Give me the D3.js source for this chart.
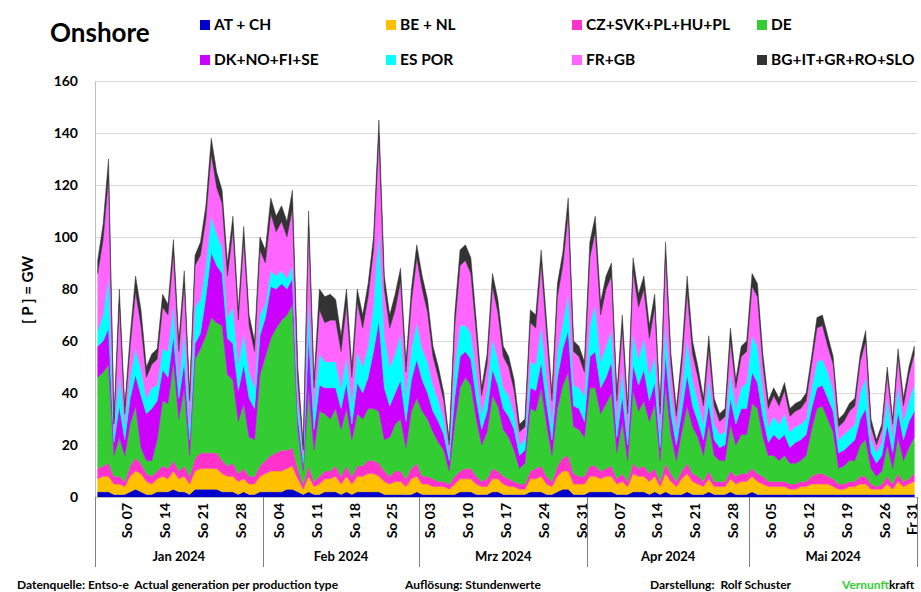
<!DOCTYPE html>
<html>
<head>
<meta charset="utf-8">
<script src="https://cdn.jsdelivr.net/npm/d3@7"></script>
<style>
  body { margin: 0; background: #fff; }
  text { font-family: Lato, "Open Sans", sans-serif; fill: #000; }
</style>
</head>
<body>
<svg id="chart" width="921" height="592"></svg>
<script>
// daily values (GW), Jan 1 .. May 31 2024
var names = ['AT + CH', 'BE + NL', 'CZ+SVK+PL+HU+PL', 'DE', 'DK+NO+FI+SE', 'ES POR', 'FR+GB', 'BG+IT+GR+RO+SLO'];
var colors = ['#0000cc', '#ffc000', '#ff33cc', '#33cc33', '#cc00ff', '#00ffff', '#ff66ff', '#333333'];

var atCh = [].concat(
  [2,2,2,1,1,1,2,3,2,1,1,2,2,2,3,2,2,1,3,3,3,3,3,2,2,2,1,2,1,1,2],
  [2,2,2,2,3,3,2,1,2,1,1,2,2,2,1,2,1,2,2,2,2,2,1,1,1,1,1,1,2],
  [1,1,1,1,1,1,1,2,2,2,1,1,1,2,2,1,1,1,1,1,2,2,2,1,1,2,3,3,1,1,1],
  [2,2,2,2,2,1,1,1,2,2,2,1,2,1,2,1,1,1,2,1,1,1,2,1,1,1,2,1,1,1],
  [2,1,1,1,1,1,1,1,1,1,1,1,1,1,1,1,1,1,1,1,1,1,1,1,1,1,1,1,1,1,1]);
var beNl = [].concat(
  [5,6,6,4,4,3,6,7,7,5,4,5,6,5,7,5,6,4,7,8,8,8,8,7,6,6,5,5,4,4,6],
  [7,8,8,8,8,9,5,2,6,3,4,5,5,6,4,6,4,6,6,7,7,6,5,4,5,5,3,6,6],
  [4,4,3,3,3,2,4,5,5,5,4,3,3,5,5,4,3,3,2,2,5,5,6,4,3,6,7,7,4,4,4],
  [6,6,5,6,6,4,5,3,7,6,6,5,6,3,7,5,3,6,7,5,4,3,5,3,3,3,5,4,5,5],
  [6,5,4,3,3,3,3,2,2,3,3,4,4,4,4,3,2,2,3,3,4,4,2,2,2,4,2,5,3,4,5]);
var czEtc = [].concat(
  [4,4,5,3,3,2,4,5,4,3,3,3,4,4,4,3,4,3,5,6,6,6,6,5,4,5,3,4,3,3,4],
  [5,6,7,8,7,7,4,2,4,2,3,3,3,4,3,4,3,4,4,5,5,5,4,3,4,4,3,4,5],
  [3,3,3,2,2,2,3,3,4,4,3,2,3,4,3,3,3,2,2,2,3,4,4,3,2,4,5,6,4,3,3],
  [4,4,3,3,4,2,3,2,4,3,4,3,3,2,4,3,2,3,4,3,3,2,3,2,2,2,3,3,3,3],
  [3,3,3,2,2,2,2,2,2,2,2,3,4,4,3,3,2,2,2,2,3,3,2,1,2,3,2,3,2,2,3]);
var de = [].concat(
  [35,36,38,8,15,10,16,20,6,5,6,12,25,25,38,20,30,8,38,40,45,52,50,52,35,32,20,25,15,14,35],
  [40,45,48,50,52,55,15,5,30,12,25,22,20,22,18,22,14,20,18,20,20,20,12,15,18,20,12,22,25],
  [25,22,18,15,12,5,20,32,35,32,22,14,18,28,25,18,16,12,6,8,24,22,30,20,10,22,28,32,18,18,15],
  [30,30,22,25,28,10,20,8,28,22,25,20,25,8,30,15,8,15,22,18,15,10,18,10,8,8,18,12,15,15],
  [25,25,15,10,10,8,10,8,8,8,10,18,25,26,22,18,6,7,8,8,12,14,6,4,5,12,6,14,8,12,14]);
var dkEtc = [].concat(
  [12,12,14,5,12,6,10,12,20,18,20,15,12,10,10,8,10,6,6,6,15,25,22,20,14,14,12,15,15,12,15],
  [15,20,15,14,10,10,5,3,20,8,10,10,12,8,8,10,6,12,10,12,22,35,20,12,12,15,10,12,15],
  [12,10,8,8,6,4,10,12,10,10,8,6,8,10,8,8,8,8,5,5,8,8,10,8,6,12,14,16,8,8,6],
  [12,14,10,10,12,6,10,6,10,10,12,8,8,5,12,8,6,8,12,8,6,6,8,6,5,6,10,8,10,10],
  [12,10,8,5,8,8,8,6,8,8,8,8,8,8,8,8,6,6,6,8,10,12,6,5,6,8,6,10,8,10,10]);
var esPor = [].concat(
  [6,10,20,4,12,6,8,10,10,6,8,6,8,10,12,6,12,6,14,13,12,14,12,10,8,14,10,12,10,8,8],
  [5,6,5,5,4,5,6,3,14,8,12,10,10,10,8,10,8,12,10,12,18,35,20,15,15,18,10,12,14],
  [12,12,10,8,6,3,12,12,10,10,10,6,8,12,10,8,8,6,4,4,10,10,14,10,6,10,10,14,8,8,10],
  [12,18,10,12,12,6,10,5,12,10,12,10,10,6,12,8,5,8,14,10,8,6,10,6,5,5,10,6,8,10],
  [14,14,10,6,7,6,8,6,6,6,6,8,10,10,10,8,5,6,6,6,10,12,5,4,5,10,6,10,7,8,10]);
var frGb = [].concat(
  [22,29,38,3,27,4,12,22,17,8,9,10,16,14,20,12,18,9,16,17,18,24,18,17,16,30,17,36,18,14,25],
  [16,22,17,19,16,22,8,2,28,8,17,15,16,16,14,20,10,19,15,19,21,36,18,15,17,20,9,18,25],
  [23,19,11,9,7,3,15,23,25,23,15,7,10,20,18,12,11,9,5,5,15,14,24,17,9,21,22,31,13,12,9],
  [26,28,18,22,21,8,16,7,24,20,19,14,19,7,26,11,6,10,18,10,9,7,11,7,5,6,12,8,12,12],
  [19,19,10,7,8,7,9,6,6,6,7,9,13,13,10,10,5,5,7,7,12,14,5,3,5,9,5,11,6,10,12]);
var bgEtc = [].concat(
  [5,6,7,2,6,3,4,6,6,4,4,4,5,4,5,4,5,3,4,5,5,6,6,5,5,5,4,5,4,4,5],
  [5,6,6,6,6,7,5,2,6,3,8,10,10,8,6,6,4,5,5,5,5,6,5,5,6,5,4,5,5],
  [5,5,4,4,3,2,5,6,6,6,5,3,4,5,5,4,4,4,3,3,5,5,5,5,3,5,5,6,4,4,4],
  [6,6,5,5,5,3,5,3,5,5,5,5,5,3,5,4,3,4,6,5,4,3,5,3,3,3,5,3,4,4],
  [5,5,4,3,3,3,3,3,3,3,3,3,4,4,4,3,3,3,3,3,3,4,3,2,2,3,2,3,3,3,3]);

var yTicks = [0, 20, 40, 60, 80, 100, 120, 140, 160];
var months = ['Jan 2024', 'Feb 2024', 'Mrz 2024', 'Apr 2024', 'Mai 2024'];
var dayLabels = [
  ['2024-01-07','So 07'],['2024-01-14','So 14'],['2024-01-21','So 21'],['2024-01-28','So 28'],
  ['2024-02-04','So 04'],['2024-02-11','So 11'],['2024-02-18','So 18'],['2024-02-25','So 25'],
  ['2024-03-03','So 03'],['2024-03-10','So 10'],['2024-03-17','So 17'],['2024-03-24','So 24'],['2024-03-31','So 31'],
  ['2024-04-07','So 07'],['2024-04-14','So 14'],['2024-04-21','So 21'],['2024-04-28','So 28'],
  ['2024-05-05','So 05'],['2024-05-12','So 12'],['2024-05-19','So 19'],['2024-05-26','So 26'],['2024-05-31','Fr 31']
];

(function(){
  var svg = d3.select('#chart');
  var left = 95, right = 917, plotTop = 81, bottom = 497;

  var x = d3.scaleUtc()
    .domain([new Date(Date.UTC(2024, 0, 1)), new Date(Date.UTC(2024, 5, 1))])
    .range([left, right]);
  var y = d3.scaleLinear().domain([0, 160]).range([bottom, plotTop]);

  var series = [atCh, beNl, czEtc, de, dkEtc, esPor, frGb, bgEtc];
  var rows = atCh.map(function(v, i) {
    var r = { date: new Date(Date.UTC(2024, 0, 1 + i, 12)) };
    series.forEach(function(s, k) { r[names[k]] = s[i]; });
    return r;
  });
  var stacked = d3.stack().keys(names)(rows);

  // grid
  svg.append('g').selectAll('line').data(yTicks).enter().append('line')
    .attr('x1', left).attr('x2', right)
    .attr('y1', function(d){ return Math.round(y(d)) + 0.5; })
    .attr('y2', function(d){ return Math.round(y(d)) + 0.5; })
    .style('stroke', '#d9d9d9').style('stroke-width', 1);

  var area = d3.area()
    .x(function(d){ return x(d.data.date); })
    .y0(function(d){ return y(d[0]); })
    .y1(function(d){ return y(d[1]); });

  svg.append('g').selectAll('path').data(stacked).enter().append('path')
    .attr('d', area)
    .style('fill', function(d, i){ return colors[i]; })
    .style('stroke', function(d, i){ return colors[i]; })
    .style('stroke-width', 0.5);

  // y axis
  var yAxis = d3.axisLeft(y).tickValues(yTicks).tickSize(0).tickPadding(17);
  var gy = svg.append('g').attr('transform', 'translate(' + left + ',0)').call(yAxis);
  gy.select('.domain').style('stroke', '#bfbfbf');
  gy.selectAll('text').style('font-size', '14px').style('font-weight', 'bold')
    .style('font-family', 'Lato, sans-serif');

  svg.append('text')
    .attr('transform', 'translate(33,290) rotate(-90)')
    .style('text-anchor', 'middle').style('font-size', '15px').style('font-weight', 'bold')
    .text('[ P ] = GW');

  // x axis
  svg.append('line').attr('x1', left).attr('x2', right).attr('y1', bottom + 0.5).attr('y2', bottom + 0.5)
    .style('stroke', '#bfbfbf');

  var monthStarts = d3.utcMonths(new Date(Date.UTC(2024, 0, 1)), new Date(Date.UTC(2024, 5, 2)));
  svg.append('g').selectAll('line').data(monthStarts).enter().append('line')
    .attr('x1', function(d){ return Math.round(x(d)) + 0.5; })
    .attr('x2', function(d){ return Math.round(x(d)) + 0.5; })
    .attr('y1', bottom).attr('y2', 567)
    .style('stroke', '#808080');

  svg.append('g').selectAll('text').data(months).enter().append('text')
    .attr('x', function(d, i){ return (x(monthStarts[i]) + x(monthStarts[i + 1])) / 2; })
    .attr('y', 561)
    .style('text-anchor', 'middle').style('font-size', '13px').style('font-weight', 'bold')
    .text(function(d){ return d; });

  svg.append('g').selectAll('text').data(dayLabels).enter().append('text')
    .attr('transform', function(d){
      return 'translate(' + (x(new Date(d[0] + 'T00:00:00Z')) + 5) + ',503) rotate(-90)';
    })
    .style('text-anchor', 'end').style('font-size', '14px').style('font-weight', 'bold')
    .text(function(d){ return d[1]; });

  // title and legend
  svg.append('text').attr('x', 50).attr('y', 42)
    .style('font-size', '26px').style('font-weight', 'bold').text('Onshore');

  var legX = [200, 386, 572, 757], legY = [25, 60];
  var leg = svg.append('g').selectAll('g').data(names).enter().append('g')
    .attr('transform', function(d, i){ return 'translate(' + legX[i % 4] + ',' + legY[Math.floor(i / 4)] + ')'; });
  leg.append('rect').attr('x', 0).attr('y', -5).attr('width', 10).attr('height', 10)
    .style('fill', function(d, i){ return colors[i]; });
  leg.append('text').attr('x', 14).attr('y', 0).attr('dy', '0.35em')
    .style('font-size', '15.5px').style('font-weight', 'bold')
    .text(function(d){ return d; });

  // footer
  var foot = svg.append('g').style('font-size', '12px').style('font-weight', 'bold');
  foot.append('text').attr('x', 17).attr('y', 589).attr('xml:space', 'preserve')
    .text('Datenquelle: Entso-e  Actual generation per production type');
  foot.append('text').attr('x', 405).attr('y', 589).text('Auflösung: Stundenwerte');
  foot.append('text').attr('x', 650).attr('y', 589).attr('xml:space', 'preserve')
    .text('Darstellung:  Rolf Schuster');
  var vk = foot.append('text').attr('x', 842).attr('y', 589);
  vk.append('tspan').style('fill', '#33cc33').text('Vernunft');
  vk.append('tspan').text('kraft');
})();
</script>
</body>
</html>
